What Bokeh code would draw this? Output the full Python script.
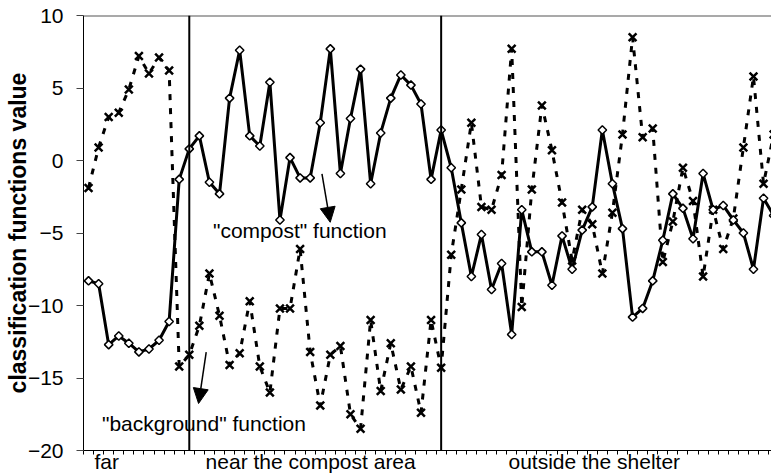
import numpy as np
from bokeh.plotting import figure
from bokeh.models import FixedTicker, Span, Label, Arrow, NormalHead, Range1d
from bokeh.embed import file_html
from bokeh.resources import INLINE

# "compost" classification function (solid line, diamonds)
compost = [-8.3, -8.5, -12.7, -12.1, -12.6, -13.2, -13.0, -12.4, -11.1, -1.3,
           0.8, 1.7, -1.5, -2.3, 4.3, 7.6, 1.7, 1.0, 5.4, -4.1,
           0.2, -1.2, -1.2, 2.6, 7.7, -0.9, 2.9, 6.3, -1.6, 1.9,
           4.3, 5.9, 5.2, 3.9, -1.3, 2.1, -0.5, -4.3, -8.0, -5.1,
           -8.9, -7.1, -12.0, -3.4, -6.3, -6.3, -8.6, -5.2, -7.5, -4.8,
           -3.2, 2.1, -1.6, -4.7, -10.8, -10.2, -8.3, -5.5, -2.3, -3.3,
           -5.4, -0.9, -3.4, -3.1, -4.1, -5.0, -7.5, -2.6, -3.8]

# "background" classification function (dashed line, crosses)
background = [-1.9, 0.9, 3.0, 3.3, 4.9, 7.2, 6.0, 7.1, 6.2, -14.2,
              -13.4, -11.4, -7.8, -10.7, -14.1, -13.3, -9.7, -14.2, -16.0, -10.2,
              -10.2, -6.1, -13.2, -16.9, -13.4, -12.8, -17.5, -18.5, -11.0, -15.9,
              -12.6, -15.8, -14.2, -17.4, -11.0, -14.3, -6.5, -2.0, 2.6, -3.2,
              -3.4, -1.0, 7.7, -10.1, -2.0, 3.8, 0.7, -2.9, -6.9, -3.4,
              -4.4, -7.8, -3.6, 1.8, 8.5, 1.6, 2.2, -7.0, -4.2, -0.5,
              -2.8, -8.0, -3.4, -6.1, -4.0, 0.9, 5.8, -1.6, 1.8]

samples = list(range(len(compost)))
group_labels = ["far", "near the compost area", "outside the shelter"]
group_label_pos = [1.8, 22.05, 50.2]
section_breaks = [10, 35]
y_ticks = [-20, -15, -10, -5, 0, 5, 10]

FONT = "Liberation Sans"

p = figure(width=771, height=476, output_backend="svg", toolbar_location=None,
           x_range=Range1d(-0.5, 67.79), y_range=Range1d(-20, 10),
           min_border_left=83, min_border_right=0, min_border_top=15,
           min_border_bottom=26)
p.outline_line_color = None
p.grid.visible = False
p.background_fill_color = "white"
p.border_fill_color = "white"

# y axis
p.yaxis.ticker = FixedTicker(ticks=y_ticks)
p.yaxis.major_tick_out = 7
p.yaxis.major_tick_in = 0
p.yaxis.minor_tick_out = 0
p.yaxis.minor_tick_in = 0
p.yaxis.major_label_standoff = 13
p.yaxis.major_label_text_font = FONT
p.yaxis.major_label_text_font_size = "21px"
p.yaxis.major_label_text_color = "black"
p.yaxis.axis_line_color = "black"
p.yaxis.major_tick_line_color = "#444444"
p.yaxis.axis_label = "classification functions value"
p.yaxis.axis_label_text_font = FONT
p.yaxis.axis_label_text_font_style = "bold"
p.yaxis.axis_label_text_font_size = "23px"
p.yaxis.axis_label_text_color = "black"
p.yaxis.axis_label_standoff = -6

# x axis
p.xaxis.ticker = FixedTicker(ticks=group_label_pos,
                             minor_ticks=[i - 0.5 for i in range(len(compost) + 1)])
p.xaxis.major_label_overrides = {pos: lab for pos, lab in zip(group_label_pos, group_labels)}
p.xaxis.major_tick_out = 0
p.xaxis.major_tick_in = 0
p.xaxis.minor_tick_out = 4
p.xaxis.minor_tick_in = 0
p.xaxis.minor_tick_line_color = "black"
p.xaxis.axis_line_color = "black"
p.xaxis.major_label_standoff = -5
p.xaxis.major_label_text_font = FONT
p.xaxis.major_label_text_font_size = "21px"
p.xaxis.major_label_text_color = "black"

# top border and section separators
p.add_layout(Span(location=y_ticks[-1], dimension="width", line_color="#555555", line_width=2))
for b in section_breaks:
    p.add_layout(Span(location=b, dimension="height", line_color="black", line_width=2))

p.line(samples, background, line_color="black", line_width=3, line_dash="6 8")
p.scatter(samples, background, marker="x", size=11, line_color="black", line_width=2.5)
p.line(samples, compost, line_color="black", line_width=3)
p.scatter(samples, compost, marker="square", angle=np.pi / 4, size=6,
          fill_color="white", line_color="black", line_width=1.5)

# annotations
p.add_layout(Label(x=12.35, y=-4.83, text='"compost" function', text_font=FONT,
                   text_font_size="21px", text_color="black", text_baseline="alphabetic"))
p.add_layout(Label(x=1.33, y=-18.17, text='"background" function', text_font=FONT,
                   text_font_size="21px", text_color="black", text_baseline="alphabetic"))
p.add_layout(Arrow(end=NormalHead(size=15, fill_color="black", line_color="black"),
                   x_start=23.17, y_start=-0.92, x_end=23.99, y_end=-4.26,
                   line_color="black", line_width=1.5))
p.add_layout(Arrow(end=NormalHead(size=15, fill_color="black", line_color="black"),
                   x_start=11.68, y_start=-13.22, x_end=10.92, y_end=-16.76,
                   line_color="black", line_width=1.5))

open("out.html", "w").write(file_html(p, INLINE))
